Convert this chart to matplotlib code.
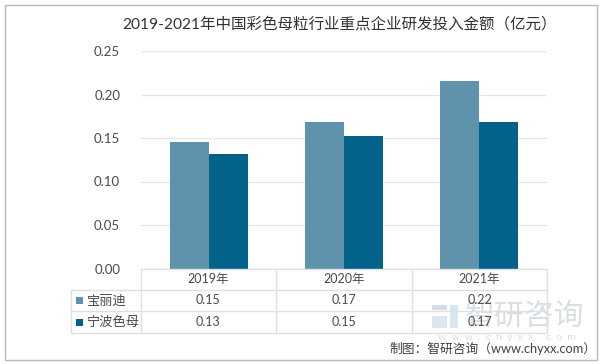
import matplotlib
matplotlib.use('Agg')
import matplotlib.pyplot as plt
from matplotlib.patches import Rectangle
import numpy as np

plt.rcParams['font.family'] = ['Lato', 'Noto Sans CJK SC', 'DejaVu Sans']

title = '2019-2021年中国彩色母粒行业重点企业研发投入金额（亿元）'
categories = ['2019年', '2020年', '2021年']
series_names = ['宝丽迪', '宁波色母']
baolidi = [0.145, 0.168, 0.216]
ningbo = [0.132, 0.152, 0.168]
table_baolidi = ['0.15', '0.17', '0.22']
table_ningbo = ['0.13', '0.15', '0.17']
yticks = [0.00, 0.05, 0.10, 0.15, 0.20, 0.25]
source = '制图：智研咨询（www.chyxx.com）'

W, H = 602, 364
C1, C2 = '#5F93AB', '#02628A'
GRID = '#E6E6E6'
TXT = '#4A4A4A'

fig = plt.figure(figsize=(W / 100, H / 100), dpi=100, facecolor='white')

# overlay in pixel coordinates (y downward)
ov = fig.add_axes([0, 0, 1, 1], zorder=3)
ov.set_xlim(0, W); ov.set_ylim(H, 0); ov.axis('off'); ov.patch.set_alpha(0)

ax = fig.add_axes([141 / W, 1 - 268.5 / H, 406 / W, 217.5 / H], zorder=2)
x = np.arange(len(categories))
bw = 0.288
ax.bar(x - bw / 2, baolidi, bw, color=C1, zorder=3)
ax.bar(x + bw / 2, ningbo, bw, color=C2, zorder=3)
ax.set_xlim(-0.5, 2.5)
ax.set_ylim(0, 0.25)
ax.set_yticks(yticks, [f'{v:.2f}' for v in yticks], fontsize=9.5, color=TXT)
ax.set_xticks([])
ax.tick_params(axis='y', length=0, pad=15)
ax.grid(axis='y', color=GRID, lw=1, zorder=0)
for s in ax.spines.values():
    s.set_visible(False)
ax.patch.set_alpha(0)

# outer frame
ov.add_patch(Rectangle((4.5, 4.5), 592.5, 355.5, fill=False, ec='#B8B8B8', lw=1))
ov.text(340, 25, title, ha='center', va='center', fontsize=11.2, color='#333333')

# watermark
wm = '#D9DEE3'
ov.add_patch(Rectangle((432, 305), 15, 5, color='#D5DDE8', lw=0, zorder=1))
ov.add_patch(Rectangle((432, 316), 15, 12, color='#DCE6EE', lw=0, zorder=1))
ov.add_patch(Rectangle((450, 305), 8, 23, color='#D8E6F0', lw=0, zorder=1))
ov.text(525, 316, '智研咨询', ha='center', va='center', fontsize=21.5, color=wm, zorder=1)
ov.text(507, 338, 'w  w  w  .  c  h  y  x  x  .  c  o  m', ha='center', va='center', fontsize=7.5, color=wm, zorder=1)

# data table
cols = [141, 276, 412, 547]
rows = [269, 290, 311, 333]
tc = '#E0E0E0'
ov.plot([141, 547], [rows[0], rows[0]], color=tc, lw=1)
for r in rows[1:]:
    ov.plot([71, 547], [r, r], color=tc, lw=1)
for c in cols:
    ov.plot([c, c], [rows[0], rows[-1]], color=tc, lw=1)
ov.plot([71, 71], [rows[1], rows[-1]], color=tc, lw=1)
for i in range(3):
    cx = (cols[i] + cols[i + 1]) / 2
    ov.text(cx, 279.5, categories[i], ha='center', va='center', fontsize=9, color=TXT)
    ov.text(cx, 300.5, table_baolidi[i], ha='center', va='center', fontsize=9, color=TXT)
    ov.text(cx, 322, table_ningbo[i], ha='center', va='center', fontsize=9, color=TXT)
for name, col, yc in zip(series_names, [C1, C2], [300.5, 322]):
    ov.add_patch(Rectangle((76, yc - 3.5), 7, 7, color=col, lw=0))
    ov.text(86, yc, name, ha='left', va='center', fontsize=9.5, color=TXT)

ov.text(596, 348, source, ha='right', va='center', fontsize=9.2, color='#404040')

fig.savefig('out.png', dpi=100, facecolor='white')
